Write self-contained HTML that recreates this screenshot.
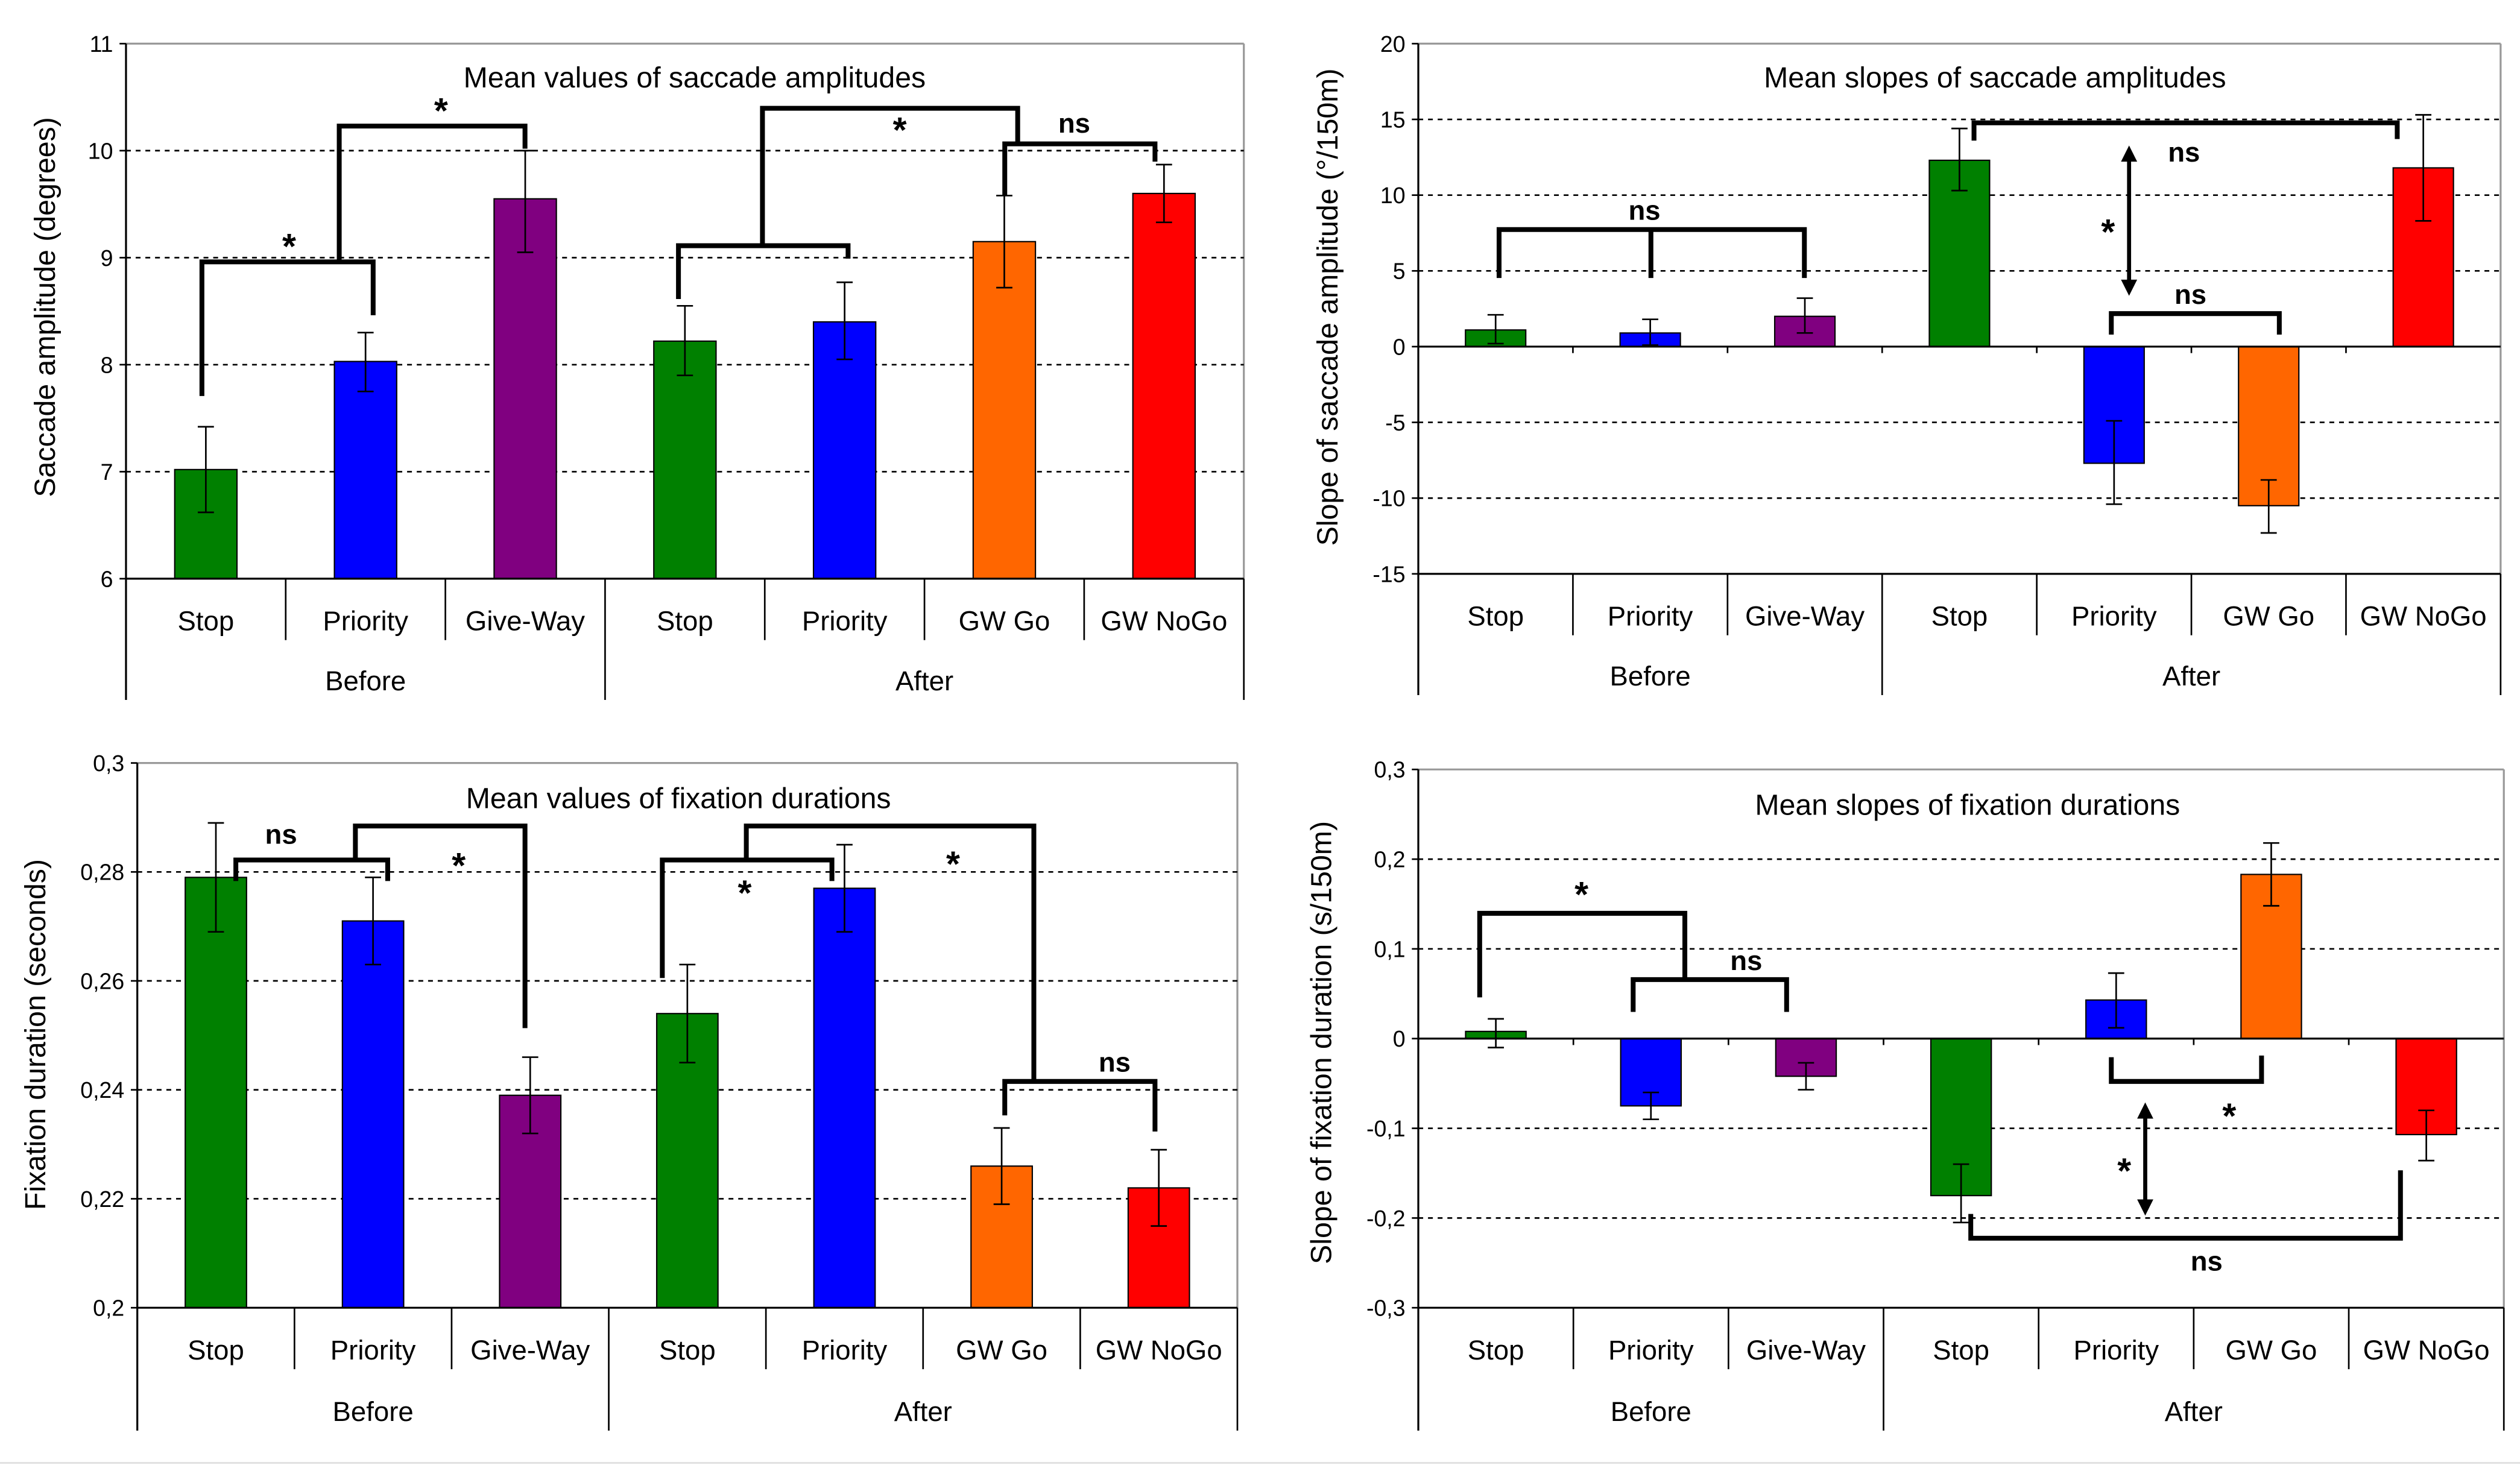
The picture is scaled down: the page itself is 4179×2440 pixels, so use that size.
<!DOCTYPE html>
<html><head><meta charset="utf-8"><style>
html,body{margin:0;padding:0;background:#fff;}
svg{display:block;font-family:"Liberation Sans",Arial,sans-serif;}
</style></head><body>
<svg id="fig" width="4179" height="2440" viewBox="0 0 1560 910" preserveAspectRatio="none" xmlns="http://www.w3.org/2000/svg"></svg>
<script>
const categories = ["Stop","Priority","Give-Way","Stop","Priority","GW Go","GW NoGo"];
const groups = ["Before","After"];
const colors = ["#008000","#0000ff","#800080","#008000","#0000ff","#ff6600","#ff0000"];

const ampMean = [7.02, 8.03, 9.55, 8.22, 8.40, 9.15, 9.60];
const ampLo   = [6.62, 7.75, 9.05, 7.90, 8.05, 8.72, 9.33];
const ampHi   = [7.42, 8.30, 10.0, 8.55, 8.77, 9.58, 9.87];
const ampTicks = [6,7,8,9,10,11];
const ampTickLabels = ["6","7","8","9","10","11"];

const ampSlope   = [1.1, 0.9, 2.0, 12.3, -7.7, -10.5, 11.8];
const ampSlopeLo = [0.2, 0.1, 0.9, 10.3, -10.4, -12.3, 8.3];
const ampSlopeHi = [2.1, 1.8, 3.2, 14.4, -4.9, -8.8, 15.3];
const ampSlopeTicks = [-15,-10,-5,0,5,10,15,20];
const ampSlopeTickLabels = ["-15","-10","-5","0","5","10","15","20"];

const fixMean = [0.279, 0.271, 0.239, 0.254, 0.277, 0.226, 0.222];
const fixLo   = [0.269, 0.263, 0.232, 0.245, 0.269, 0.219, 0.215];
const fixHi   = [0.289, 0.279, 0.246, 0.263, 0.285, 0.233, 0.229];
const fixTicks = [0.2,0.22,0.24,0.26,0.28,0.3];
const fixTickLabels = ["0,2","0,22","0,24","0,26","0,28","0,3"];

const fixSlope   = [0.008, -0.075, -0.042, -0.175, 0.043, 0.183, -0.107];
const fixSlopeLo = [-0.010, -0.090, -0.057, -0.205, 0.012, 0.148, -0.136];
const fixSlopeHi = [0.022, -0.060, -0.027, -0.140, 0.073, 0.218, -0.080];
const fixSlopeTicks = [-0.3,-0.2,-0.1,0,0.1,0.2,0.3];
const fixSlopeTickLabels = ["-0,3","-0,2","-0,1","0","0,1","0,2","0,3"];

const NS="http://www.w3.org/2000/svg";
const svg=document.getElementById('fig');
function el(tag,attrs,parent){const e=document.createElementNS(NS,tag);for(const k in attrs)e.setAttribute(k,attrs[k]);(parent||svg).appendChild(e);return e;}

function panel(cfg){
  const g=el('g',{});
  
  
  const {L,R,T,B,min,max}=cfg;
  const y=v=>B-(v-min)/(max-min)*(B-T);
  const bw=(R-L)/categories.length;
  const x=i=>L+bw*(i+0.5);
  // frame
  el('line',{x1:L,y1:T,x2:R,y2:T,stroke:'#999','stroke-width':1.2},g);
  el('line',{x1:R,y1:T,x2:R,y2:cfg.base==null?B:B,stroke:'#999','stroke-width':1.2},g);
  // grid
  cfg.ticks.forEach((t,i)=>{
    const yy=y(t);
    if(t!==min&&t!==max&&t!==cfg.base){
      const gl=el('line',{x1:L,y1:yy,x2:R,y2:yy,stroke:'#000','stroke-width':1,'stroke-dasharray':'3,3'},g);
      
      
    }
    el('line',{x1:L-4,y1:yy,x2:L,y2:yy,stroke:'#000','stroke-width':1},g);
    const tl=el('text',{x:L-8,y:yy+5,'text-anchor':'end','font-size':14,fill:'#000'},g);
    tl.textContent=cfg.tickLabels[i];
    
    
  });
  // bars
  const base=cfg.base==null?min:cfg.base;
  cfg.mean.forEach((v,i)=>{
    const cx=x(i), w=bw*0.39;
    const y0=y(base), y1=y(v);
    const b=el('rect',{x:cx-w/2,y:Math.min(y0,y1),width:w,height:Math.abs(y1-y0),fill:colors[i],stroke:'#000','stroke-width':0.8},g);
    
    
    const e=el('path',{d:`M${cx},${y(cfg.lo[i])}V${y(cfg.hi[i])}M${cx-5},${y(cfg.lo[i])}h10M${cx-5},${y(cfg.hi[i])}h10`,stroke:'#000','stroke-width':1,fill:'none'},g);
    
    
  });
  // axes
  el('line',{x1:L,y1:T,x2:L,y2:B+(cfg.gy-B)+12,stroke:'#000','stroke-width':1.2},g);
  el('line',{x1:L,y1:B,x2:R,y2:B,stroke:'#000','stroke-width':1.2},g);
  if(cfg.base!=null){el('line',{x1:L,y1:y(0),x2:R,y2:y(0),stroke:'#000','stroke-width':1.2},g);
    for(let i=1;i<categories.length;i++)el('line',{x1:L+bw*i,y1:y(0),x2:L+bw*i,y2:y(0)+4,stroke:'#000','stroke-width':1},g);}
  // category separators
  for(let i=1;i<categories.length;i++){
    const big=i===3;
    el('line',{x1:L+bw*i,y1:B,x2:L+bw*i,y2:big?cfg.gy+12:cfg.cy+12,stroke:'#000','stroke-width':1},g);
  }
  el('line',{x1:R,y1:B,x2:R,y2:cfg.gy+12,stroke:'#000','stroke-width':1},g);
  categories.forEach((c,i)=>{
    const t=el('text',{x:x(i),y:cfg.cy+6,'text-anchor':'middle','font-size':17},g);t.textContent=c;
    
    
  });
  [[0,3],[3,7]].forEach((r,k)=>{
    const t=el('text',{x:L+bw*(r[0]+r[1])/2,y:cfg.gy+6,'text-anchor':'middle','font-size':17},g);t.textContent=groups[k];
    
    
  });
  const tt=el('text',{x:cfg.tx,y:cfg.ty,'text-anchor':'middle','font-size':18},g);tt.textContent=cfg.title;
  
  
  const at=el('text',{x:cfg.ax,y:cfg.ay,'text-anchor':'middle','font-size':18,transform:`rotate(-90 ${cfg.ax} ${cfg.ay})`},g);at.textContent=cfg.ytitle;
  
  
}

panel({name:'saccade-amplitude-chart',L:78,R:770,T:27,B:358,min:6,max:11,ticks:ampTicks,tickLabels:ampTickLabels,mean:ampMean,lo:ampLo,hi:ampHi,cy:384,gy:421,title:'Mean values of saccade amplitudes',tx:430,ty:54,ytitle:'Saccade amplitude (degrees)',ax:34,ay:190});
panel({name:'saccade-slope-chart',L:878,R:1548,T:27,B:355,min:-15,max:20,base:0,ticks:ampSlopeTicks,tickLabels:ampSlopeTickLabels,mean:ampSlope,lo:ampSlopeLo,hi:ampSlopeHi,cy:381,gy:418,title:'Mean slopes of saccade amplitudes',tx:1235,ty:54,ytitle:'Slope of saccade amplitude (°/150m)',ax:828,ay:190});
panel({name:'fixation-duration-chart',L:85,R:766,T:472,B:809,min:0.2,max:0.3,ticks:fixTicks,tickLabels:fixTickLabels,mean:fixMean,lo:fixLo,hi:fixHi,cy:835,gy:873,title:'Mean values of fixation durations',tx:420,ty:500,ytitle:'Fixation duration (seconds)',ax:28,ay:640});
panel({name:'fixation-slope-chart',L:878,R:1550,T:476,B:809,min:-0.3,max:0.3,base:0,ticks:fixSlopeTicks,tickLabels:fixSlopeTickLabels,mean:fixSlope,lo:fixSlopeLo,hi:fixSlopeHi,cy:835,gy:873,title:'Mean slopes of fixation durations',tx:1218,ty:504,ytitle:'Slope of fixation duration (s/150m)',ax:824,ay:645});

// significance brackets (annotations)
const brackets=[
 "M125,245V162H231V195","M210,162V78H325V92",
 "M420,185V152H525V160","M472,152V67H630V88","M622,121V89H715V100",
 "M928,172V142H1117V172M1022,142V172","M1222,87V76H1484V86","M1307,207V194H1411V207",
 "M146,545V532H240V545","M220,532V511H325V636","M410,605V532H515V545",
 "M462,532V511H640V669","M622,690V669H715V700",
 "M916,617V565H1043V605","M1011,626V606H1106V626","M1307,654V669H1400V653",
 "M1220,751V766H1486V724"
];
brackets.forEach(d=>{
  const p=el('path',{d:d,stroke:'#000','stroke-width':3,fill:'none'});
  
  
});
const arrows=[[1318,90,183],[1328,682,752]];
arrows.forEach(a=>{
  const p=el('path',{d:`M${a[0]},${a[1]+8}V${a[2]-8}`,stroke:'#000','stroke-width':2.5});
  
  
  el('path',{d:`M${a[0]},${a[1]}l-5,10h10z M${a[0]},${a[2]}l-5,-10h10z`,fill:'#000'});
});
const marks=[["*",179,160],["*",273,76],["*",557,88],["ns",665,82],
 ["ns",1018,136],["ns",1352,100],["*",1305,151],["ns",1356,188],
 ["ns",174,522],["*",284,543],["*",461,560],["*",590,542],["ns",690,663],
 ["*",979,561],["ns",1081,600],["*",1380,698],["*",1315,732],["ns",1366,786]];
marks.forEach(m=>{
  const t=el('text',{x:m[1],y:m[2],'text-anchor':'middle','font-size':m[0]==='*'?22:17,'font-weight':'bold'});
  t.textContent=m[0];
  
  
});
el('line',{x1:0,y1:905,x2:1560,y2:905,stroke:'#ddd','stroke-width':1});
</script>
</body></html>
